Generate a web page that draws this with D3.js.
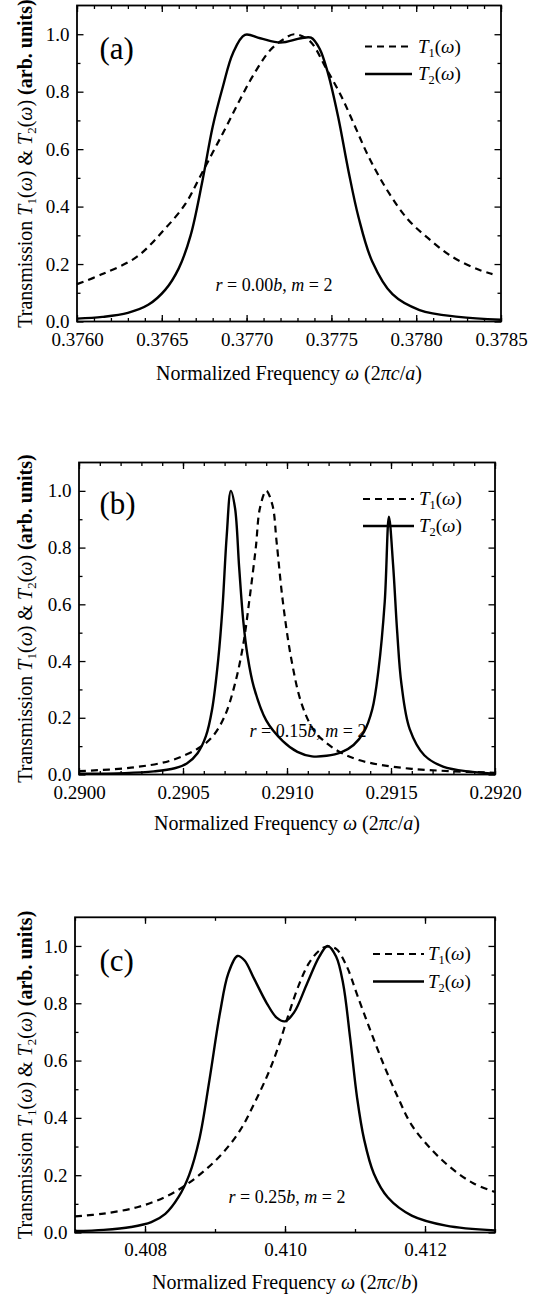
<!DOCTYPE html>
<html>
<head>
<meta charset="utf-8">
<script src="https://cdn.jsdelivr.net/npm/d3@7"></script>
<style>
  body { margin: 0; background: #fff; }
  svg, svg text { font-family: "Liberation Serif", "Times New Roman", serif; }
</style>
</head>
<body>
<svg id="chart" width="538" height="1296" font-family="Liberation Serif"></svg>
<script>
// ---- data: [frequency, transmission] ----

// panel (a), r = 0.00b
const aT1 = [
  [0.37600, 0.130], [0.37615, 0.165], [0.37635, 0.224], [0.37651, 0.317],
  [0.37664, 0.410], [0.37672, 0.498], [0.37680, 0.588], [0.37688, 0.678],
  [0.37696, 0.771], [0.37704, 0.858], [0.37714, 0.945], [0.37722, 0.983],
  [0.37728, 1.000], [0.37737, 0.978], [0.37747, 0.880], [0.37756, 0.782],
  [0.37764, 0.678], [0.37772, 0.573], [0.37783, 0.456], [0.37795, 0.356],
  [0.37807, 0.290], [0.37821, 0.226], [0.37837, 0.180], [0.37845, 0.165]
]
const aT2 = [
  [0.37600, 0.010], [0.37615, 0.016], [0.37630, 0.030], [0.37642, 0.058],
  [0.37652, 0.110], [0.37660, 0.185], [0.37667, 0.300], [0.37674, 0.491],
  [0.37680, 0.678], [0.37686, 0.817], [0.37692, 0.935], [0.37699, 0.998],
  [0.37708, 0.986], [0.37720, 0.971], [0.37732, 0.986], [0.37738, 0.988],
  [0.37743, 0.950], [0.37748, 0.864], [0.37754, 0.712], [0.37760, 0.526],
  [0.37766, 0.363], [0.37774, 0.210], [0.37786, 0.095], [0.37802, 0.040],
  [0.37825, 0.016], [0.37850, 0.006]
]

// panel (b), r = 0.15b
const bT1 = [
  [0.29000, 0.012], [0.29025, 0.024], [0.29044, 0.049], [0.29057, 0.091],
  [0.29064, 0.132], [0.29070, 0.205], [0.29075, 0.320], [0.29079, 0.460],
  [0.29082, 0.620], [0.29085, 0.800], [0.29087, 0.940], [0.29090, 1.000],
  [0.29093, 0.950], [0.29095, 0.820], [0.29098, 0.610], [0.29102, 0.410],
  [0.29107, 0.250], [0.29113, 0.155], [0.29120, 0.105], [0.29127, 0.073],
  [0.29135, 0.050], [0.29145, 0.034], [0.29160, 0.020], [0.29178, 0.012],
  [0.29200, 0.006]
]
const bT2 = [
  [0.29000, 0.003], [0.29022, 0.005], [0.29036, 0.011], [0.29046, 0.022],
  [0.29052, 0.040], [0.29057, 0.075], [0.29061, 0.135], [0.29064, 0.230],
  [0.29067, 0.410], [0.29069, 0.590], [0.29071, 0.840], [0.29073, 1.000],
  [0.29075, 0.940], [0.29077, 0.730], [0.29079, 0.540], [0.29081, 0.420],
  [0.29084, 0.310], [0.29090, 0.191], [0.29098, 0.118], [0.29105, 0.080],
  [0.29112, 0.064], [0.29119, 0.066], [0.29126, 0.078], [0.29132, 0.104],
  [0.29137, 0.150], [0.29141, 0.230], [0.29144, 0.370], [0.29147, 0.610],
  [0.29149, 0.909], [0.29151, 0.740], [0.29153, 0.500], [0.29155, 0.320],
  [0.29159, 0.160], [0.29166, 0.068], [0.29175, 0.028], [0.29188, 0.010],
  [0.29200, 0.003]
]

// panel (c), r = 0.25b
const cT1 = [
  [0.40700, 0.056], [0.40741, 0.066], [0.40790, 0.089], [0.40829, 0.124],
  [0.40858, 0.165], [0.40887, 0.220], [0.40912, 0.280], [0.40936, 0.357],
  [0.40956, 0.450], [0.40976, 0.555], [0.40990, 0.645], [0.41005, 0.760],
  [0.41020, 0.865], [0.41034, 0.939], [0.41049, 0.984], [0.41060, 0.998],
  [0.41073, 0.990], [0.41088, 0.930], [0.41103, 0.830], [0.41122, 0.705],
  [0.41142, 0.580], [0.41162, 0.468], [0.41181, 0.375], [0.41211, 0.285],
  [0.41240, 0.220], [0.41269, 0.172], [0.41300, 0.141]
]
const cT2 = [
  [0.40700, 0.005], [0.40741, 0.009], [0.40780, 0.019], [0.40809, 0.036],
  [0.40829, 0.065], [0.40848, 0.124], [0.40863, 0.200], [0.40878, 0.330],
  [0.40892, 0.531], [0.40907, 0.765], [0.40919, 0.904], [0.40932, 0.965],
  [0.40942, 0.950], [0.40956, 0.885], [0.40974, 0.800], [0.40988, 0.750],
  [0.41000, 0.737], [0.41013, 0.768], [0.41032, 0.872], [0.41049, 0.963],
  [0.41061, 1.000], [0.41073, 0.963], [0.41083, 0.869], [0.41093, 0.680],
  [0.41103, 0.470], [0.41113, 0.325], [0.41127, 0.205], [0.41147, 0.122],
  [0.41181, 0.059], [0.41230, 0.024], [0.41300, 0.007]
]

// tick labels
const aTicks = [0.3760, 0.3765, 0.3770, 0.3775, 0.3780, 0.3785]
const bTicks = [0.2900, 0.2905, 0.2910, 0.2915, 0.2920]
const cTicks = [0.408, 0.410, 0.412]
const yTicks = [0.0, 0.2, 0.4, 0.6, 0.8, 1.0]
const yMinor = [0.1, 0.3, 0.5, 0.7, 0.9]

const FONT = '"Liberation Serif", "Times New Roman", serif'
const svg = d3.select('#chart')

const panels = [
  { tag: '(a)', t1: aT1, t2: aT2, domain: [0.3760, 0.3785], major: aTicks, minorStep: 0.0001, fmt: '.4f',
    left: 77, right: 501, top: 5.5, bottom: 321.5, tickBase: 25, titleY: 380, unit: 'a',
    note: '0.00', noteX: 274, noteY: 291, legX: [365, 412], legT: 418, legY: [46.5, 74], tagY: 59 },
  { tag: '(b)', t1: bT1, t2: bT2, domain: [0.2900, 0.2920], major: bTicks, minorStep: 0.0001, fmt: '.4f',
    left: 79, right: 495, top: 462.5, bottom: 774.5, tickBase: 25, titleY: 830, unit: 'a',
    note: '0.15', noteX: 308, noteY: 737, legX: [363, 414], legT: 419, legY: [499, 526], tagY: 514 },
  { tag: '(c)', t1: cT1, t2: cT2, domain: [0.407, 0.413], major: cTicks, minorStep: 0.001, fmt: '.3f',
    left: 75, right: 495, top: 917.3, bottom: 1232.5, tickBase: 23.5, titleY: 1289, unit: 'b',
    note: '0.25', noteX: 287, noteY: 1203, legX: [373, 424], legT: 428, legY: [954, 981.5], tagY: 971 }
]

// T with subscript and (ω)
function addT(text, sub, size) {
  text.append('tspan').attr('font-style', 'italic').text('T')
  text.append('tspan').attr('font-size', size * 0.65).attr('dy', size * 0.22).text(sub)
  text.append('tspan').attr('dy', -size * 0.22).text('(')
  text.append('tspan').attr('font-style', 'italic').text('ω')
  text.append('tspan').text(')')
}

function styleAxis(g, size) {
  g.attr('font-family', FONT).attr('font-size', size)
  g.select('.domain').remove()
  g.selectAll('line').attr('stroke', '#000').attr('stroke-width', 1.3)
  g.selectAll('text').attr('fill', '#000')
}

panels.forEach(function(p) {
  const x = d3.scaleLinear().domain(p.domain).range([p.left, p.right])
  const y = d3.scaleLinear().domain([0, 1.1]).range([p.bottom, p.top])
  const minor = d3.range(p.domain[0], p.domain[1] + p.minorStep / 2, p.minorStep)
  const g = svg.append('g').attr('font-family', FONT)

  // inward ticks on all four sides
  g.append('g').attr('transform', `translate(0,${p.bottom})`)
    .call(d3.axisBottom(x).tickValues(minor).tickSize(-3.5).tickFormat(''))
    .call(s => styleAxis(s, 19))
  g.append('g').attr('transform', `translate(0,${p.bottom})`)
    .call(d3.axisBottom(x).tickValues(p.major).tickSize(-6.5)
      .tickPadding(p.tickBase - 13.5).tickFormat(d3.format(p.fmt)))
    .call(s => styleAxis(s, 19))
  g.append('g').attr('transform', `translate(0,${p.top})`)
    .call(d3.axisTop(x).tickValues(minor).tickSize(-3.5).tickFormat(''))
    .call(s => styleAxis(s, 19))
  g.append('g').attr('transform', `translate(0,${p.top})`)
    .call(d3.axisTop(x).tickValues(p.major).tickSize(-6.5).tickFormat(''))
    .call(s => styleAxis(s, 19))
  g.append('g').attr('transform', `translate(${p.left},0)`)
    .call(d3.axisLeft(y).tickValues(yMinor).tickSize(-3.5).tickFormat(''))
    .call(s => styleAxis(s, 19))
  g.append('g').attr('transform', `translate(${p.left},0)`)
    .call(d3.axisLeft(y).tickValues(yTicks).tickSize(-6.5).tickPadding(7.5).tickFormat(d3.format('.1f')))
    .call(s => styleAxis(s, 19))
  g.append('g').attr('transform', `translate(${p.right},0)`)
    .call(d3.axisRight(y).tickValues(yMinor).tickSize(-3.5).tickFormat(''))
    .call(s => styleAxis(s, 19))
  g.append('g').attr('transform', `translate(${p.right},0)`)
    .call(d3.axisRight(y).tickValues(yTicks).tickSize(-6.5).tickFormat(''))
    .call(s => styleAxis(s, 19))

  // frame
  g.append('rect')
    .attr('x', p.left).attr('y', p.top)
    .attr('width', p.right - p.left).attr('height', p.bottom - p.top)
    .attr('fill', 'none').attr('stroke', '#000').attr('stroke-width', 1.8)

  const line = d3.line()
    .x(d => x(d[0]))
    .y(d => y(d[1]))
    .curve(d3.curveCatmullRom.alpha(0.5))

  g.append('path').datum(p.t1)
    .attr('d', line).attr('fill', 'none').attr('stroke', '#000')
    .attr('stroke-width', 2.2).attr('stroke-dasharray', '7,5')
  g.append('path').datum(p.t2)
    .attr('d', line).attr('fill', 'none').attr('stroke', '#000')
    .attr('stroke-width', 2.4).attr('stroke-linejoin', 'round')

  // legend
  g.append('line').attr('x1', p.legX[0]).attr('x2', p.legX[1])
    .attr('y1', p.legY[0]).attr('y2', p.legY[0])
    .attr('stroke', '#000').attr('stroke-width', 2.2).attr('stroke-dasharray', '7,5')
  g.append('line').attr('x1', p.legX[0]).attr('x2', p.legX[1])
    .attr('y1', p.legY[1]).attr('y2', p.legY[1])
    .attr('stroke', '#000').attr('stroke-width', 2.4)
  addT(g.append('text').attr('x', p.legT).attr('y', p.legY[0] + 6).attr('font-size', 19), '1', 19)
  addT(g.append('text').attr('x', p.legT).attr('y', p.legY[1] + 6).attr('font-size', 19), '2', 19)

  // panel tag
  g.append('text').attr('x', 99.5).attr('y', p.tagY).attr('font-size', 31).text(p.tag)

  // parameter note
  const note = g.append('text').attr('x', p.noteX).attr('y', p.noteY)
    .attr('font-size', 18).attr('text-anchor', 'middle')
  note.append('tspan').attr('font-style', 'italic').text('r')
  note.append('tspan').text(' = ' + p.note)
  note.append('tspan').attr('font-style', 'italic').text('b')
  note.append('tspan').text(', ')
  note.append('tspan').attr('font-style', 'italic').text('m')
  note.append('tspan').text(' = 2')

  // x title
  const xt = g.append('text').attr('x', (p.left + p.right) / 2).attr('y', p.titleY)
    .attr('font-size', 20).attr('text-anchor', 'middle')
  xt.append('tspan').text('Normalized Frequency ')
  xt.append('tspan').attr('font-style', 'italic').text('ω')
  xt.append('tspan').text(' (2')
  xt.append('tspan').attr('font-style', 'italic').text('πc')
  xt.append('tspan').text('/')
  xt.append('tspan').attr('font-style', 'italic').text(p.unit)
  xt.append('tspan').text(')')

  // y title
  const yt = g.append('text')
    .attr('transform', `translate(32,${(p.top + p.bottom) / 2}) rotate(-90)`)
    .attr('font-size', 20).attr('text-anchor', 'middle')
  yt.append('tspan').text('Transmission ')
  addT(yt, '1', 20)
  yt.append('tspan').text(' & ')
  addT(yt, '2', 20)
  yt.append('tspan').attr('font-weight', 'bold').text(' (arb. units)')
})
</script>
</body>
</html>
